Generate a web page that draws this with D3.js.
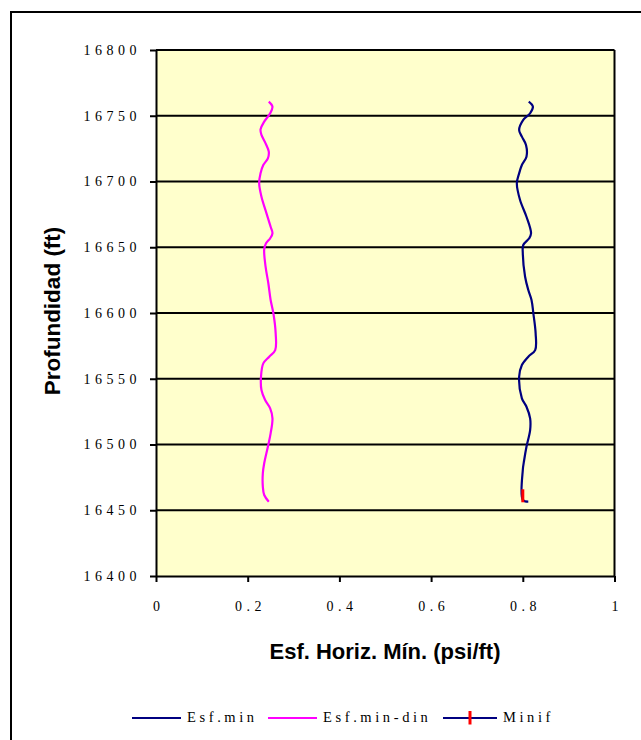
<!DOCTYPE html>
<html><head><meta charset="utf-8">
<script src="https://cdn.jsdelivr.net/npm/d3@7"></script>
<style>body{margin:0;background:#fff;} svg{display:block;}</style>
</head><body>
<script>
// ---- data ----
const esfMinDepth = [16760.7,16756.9,16751.9,16746.8,16739.2,16734.1,16727.8,16718.9,16712.5,16706.2,16698.6,16685.9,16673.2,16660.6,16656.8,16651.7,16645.4,16627.6,16617.5,16609.9,16599.8,16584.5,16571.8,16566.8,16560.4,16551.5,16535.1,16528.7,16519.9,16511.0,16498.3,16488.2,16480.6,16457.8,16456.5];
const esfMinValue = [0.813,0.822,0.816,0.801,0.792,0.798,0.807,0.808,0.798,0.792,0.787,0.794,0.808,0.818,0.814,0.801,0.800,0.805,0.812,0.819,0.823,0.828,0.827,0.812,0.798,0.792,0.798,0.808,0.816,0.816,0.808,0.803,0.800,0.800,0.812];
const esfMinDinDepth = [16760.7,16756.9,16751.9,16745.5,16739.7,16735.4,16729.0,16722.7,16717.6,16712.5,16706.2,16698.6,16688.4,16675.8,16665.6,16660.6,16656.8,16653.0,16648.4,16635.2,16622.6,16609.9,16599.8,16584.5,16571.8,16566.8,16561.7,16551.5,16541.4,16533.8,16527.5,16519.9,16508.5,16498.3,16485.7,16478.1,16467.9,16461.6,16456.5];
const esfMinDinValue = [0.246,0.254,0.249,0.236,0.228,0.230,0.239,0.246,0.244,0.234,0.228,0.225,0.230,0.241,0.250,0.254,0.249,0.240,0.236,0.239,0.245,0.250,0.256,0.261,0.260,0.247,0.234,0.229,0.230,0.238,0.249,0.254,0.250,0.244,0.236,0.233,0.233,0.236,0.246];
const minifDepth = [16461];
const minifValue = [0.800];
const xTicks = [0, 0.2, 0.4, 0.6, 0.8, 1];
const xTickLabels = ["0", "0.2", "0.4", "0.6", "0.8", "1"];
const yTicks = [16400, 16450, 16500, 16550, 16600, 16650, 16700, 16750, 16800];
const seriesNames = ["Esf.min", "Esf.min-din", "Minif"];
const xTitle = "Esf. Horiz. Mín. (psi/ft)";
const yTitle = "Profundidad (ft)";

// ---- drawing ----
const W = 641, H = 740;
const navy = "#000080", magenta = "#FF00FF", red = "#FF0000";
const serif = "'Liberation Serif','Times New Roman',serif";
const sans = "'Liberation Sans',Arial,sans-serif";

const svg = d3.select("body").append("svg").attr("width", W).attr("height", H);
svg.append("rect").attr("x", 11).attr("y", 12).attr("width", W + 20).attr("height", H + 20)
  .attr("fill", "#fff").attr("stroke", "#000").attr("stroke-width", 2);

const m = {left: 156, right: 614.5, top: 50, bottom: 576};
const x = d3.scaleLinear().domain([0, 1]).range([m.left, m.right]);
const y = d3.scaleLinear().domain([16400, 16800]).range([m.bottom, m.top]);

svg.append("rect").attr("x", m.left).attr("y", m.top)
  .attr("width", m.right - m.left).attr("height", m.bottom - m.top).attr("fill", "#FFFFCC");

// gridlines
svg.append("g").selectAll("line").data(yTicks.slice(1)).join("line")
  .attr("x1", m.left).attr("x2", m.right)
  .attr("y1", d => y(d)).attr("y2", d => y(d))
  .attr("stroke", "#000").attr("stroke-width", 2);
// right border
svg.append("line").attr("x1", m.right).attr("x2", m.right).attr("y1", m.top).attr("y2", m.bottom)
  .attr("stroke", "#000").attr("stroke-width", 2);

// axes
const gy = svg.append("g").attr("transform", `translate(${m.left},0)`)
  .call(d3.axisLeft(y).tickValues(yTicks).tickSize(6).tickSizeOuter(0).tickPadding(9).tickFormat(d3.format("d")));
const gx = svg.append("g").attr("transform", `translate(0,${m.bottom})`)
  .call(d3.axisBottom(x).tickValues(xTicks).tickSize(6).tickSizeOuter(0).tickPadding(19)
    .tickFormat((d, i) => xTickLabels[i]));
[gy, gx].forEach(g => {
  g.select(".domain").attr("stroke", "#000").attr("stroke-width", 2);
  g.selectAll(".tick line").attr("stroke", "#000").attr("stroke-width", 2);
  g.selectAll(".tick text").attr("fill", "#000").style("font-family", serif)
    .style("font-size", "14px").style("letter-spacing", "4.5px");
});
gx.selectAll(".tick text").attr("dx", "2.2px");

// series
const line = d3.line().x(d => x(d[0])).y(d => y(d[1])).curve(d3.curveCatmullRom.alpha(0.5));
const s1 = esfMinValue.map((v, i) => [v, esfMinDepth[i]]);
const s2 = esfMinDinValue.map((v, i) => [v, esfMinDinDepth[i]]);
svg.append("path").datum(s2).attr("d", line).attr("fill", "none").attr("stroke", magenta).attr("stroke-width", 2.2);
svg.append("path").datum(s1).attr("d", line).attr("fill", "none").attr("stroke", navy).attr("stroke-width", 2.2);
svg.append("g").selectAll("line").data(minifValue.map((v, i) => [v, minifDepth[i]])).join("line")
  .attr("x1", d => x(d[0])).attr("x2", d => x(d[0]))
  .attr("y1", d => y(d[1]) - 6.5).attr("y2", d => y(d[1]) + 6.5)
  .attr("stroke", red).attr("stroke-width", 3);

// titles
svg.append("text").attr("x", 385).attr("y", 659).attr("text-anchor", "middle")
  .style("font-family", sans).style("font-weight", "bold").style("font-size", "22px")
  .text(xTitle);
svg.append("text").attr("transform", "translate(60,311) rotate(-90)").attr("text-anchor", "middle")
  .style("font-family", sans).style("font-weight", "bold").style("font-size", "22.5px")
  .text(yTitle);

// legend
const legendItems = [
  {name: seriesNames[0], color: navy, x0: 132, x1: 181, marker: false},
  {name: seriesNames[1], color: magenta, x0: 268, x1: 317, marker: false},
  {name: seriesNames[2], color: navy, x0: 443, x1: 497, marker: true}
];
const lg = svg.append("g");
legendItems.forEach(it => {
  lg.append("line").attr("x1", it.x0).attr("x2", it.x1).attr("y1", 718).attr("y2", 718)
    .attr("stroke", it.color).attr("stroke-width", 2);
  if (it.marker) {
    const cx = (it.x0 + it.x1) / 2;
    lg.append("line").attr("x1", cx).attr("x2", cx).attr("y1", 711).attr("y2", 724.5)
      .attr("stroke", red).attr("stroke-width", 3);
  }
  lg.append("text").attr("x", it.x1 + 6).attr("y", 722)
    .style("font-family", serif).style("font-size", "14.5px").style("letter-spacing", "3.6px")
    .text(it.name);
});
</script>
</body></html>
